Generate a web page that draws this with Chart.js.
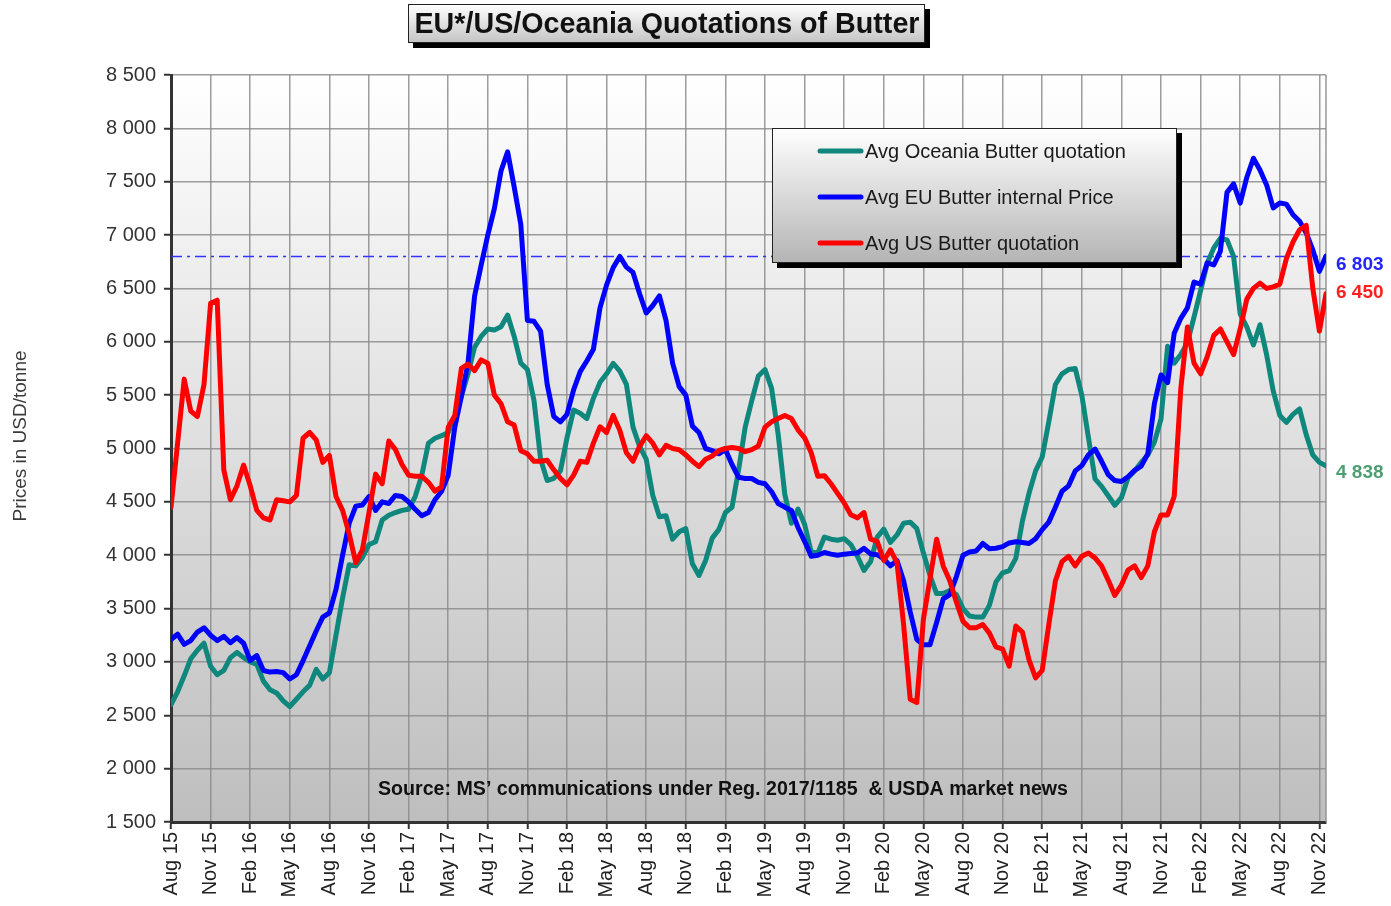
<!DOCTYPE html>
<html>
<head>
<meta charset="utf-8">
<title>EU*/US/Oceania Quotations of Butter</title>
<script src="https://cdn.jsdelivr.net/npm/chart.js@4.4.1/dist/chart.umd.min.js"></script>
<style>
	html, body { margin: 0; padding: 0; background: #fff; }
	canvas { display: block; }
</style>
</head>
<body>
<canvas id="butterChart" width="1391" height="906"></canvas>
<script>
// one tick label every 3 months, Aug 2015 .. Nov 2022
const quarterLabels = [
	"Aug 15", "Nov 15", "Feb 16", "May 16", "Aug 16", "Nov 16", "Feb 17", "May 17",
	"Aug 17", "Nov 17", "Feb 18", "May 18", "Aug 18", "Nov 18", "Feb 19", "May 19",
	"Aug 19", "Nov 19", "Feb 20", "May 20", "Aug 20", "Nov 20", "Feb 21", "May 21",
	"Aug 21", "Nov 21", "Feb 22", "May 22", "Aug 22", "Nov 22"
];

// prices in USD/tonne, one value every half month from Aug 2015
const monthStep = 0.5;

const oceania = [
	2600, 2720, 2870, 3030, 3110, 3175, 2960, 2880, 2920, 3040, 3090, 3040,
	3000, 2977, 2820, 2740, 2710, 2636, 2582, 2650, 2720, 2780, 2930, 2840,
	2900, 3250, 3600, 3910, 3900, 3980, 4100, 4126, 4330, 4375, 4400, 4420,
	4430, 4550, 4750, 5050, 5096, 5120, 5150, 5300, 5490, 5700, 5950, 6050,
	6120, 6110, 6140, 6250, 6050, 5800, 5740, 5450, 4900, 4700, 4720, 4790,
	5100, 5360, 5330, 5280, 5470, 5620, 5700, 5797, 5725, 5600, 5200, 5020,
	4900, 4560, 4360, 4370, 4150, 4220, 4250, 3920, 3810, 3950, 4160, 4240,
	4400, 4450, 4800, 5200, 5450, 5680, 5740, 5563, 5130, 4570, 4300, 4432,
	4290, 4030, 4020, 4170, 4150, 4140, 4155, 4100, 3990, 3857, 3940, 4170,
	4245, 4120, 4190, 4300, 4310, 4250, 4020, 3810, 3641, 3641, 3670, 3630,
	3500, 3430, 3420, 3420, 3530, 3750, 3835, 3855, 3970, 4320, 4580, 4790,
	4920, 5250, 5600, 5700, 5740, 5750, 5500, 5105, 4715, 4645, 4557, 4468,
	4539, 4725, 4790, 4870, 4940, 5060, 5276, 5958, 5800, 5880, 5990, 6230,
	6480, 6735, 6880, 6970, 6955, 6800, 6260, 6140, 5970, 6160, 5880, 5540,
	5310, 5245, 5320, 5370, 5130, 4940, 4870, 4838
];

const euPrice = [
	3210, 3260, 3165, 3200, 3280, 3320, 3250, 3200, 3240, 3180, 3228, 3175,
	3013, 3060, 2920, 2905, 2910, 2900, 2840, 2880, 3010, 3150, 3290, 3420,
	3460, 3680, 4000, 4300, 4460, 4470, 4550, 4420, 4500, 4485, 4560, 4550,
	4500, 4430, 4370, 4400, 4520, 4600, 4750, 5200, 5490, 5800, 6430, 6720,
	7000, 7250, 7600, 7780, 7450, 7100, 6200, 6192, 6100, 5600, 5300, 5250,
	5320, 5550, 5720, 5820, 5930, 6318, 6533, 6695, 6800, 6700, 6650, 6450,
	6270, 6340, 6430, 6200, 5800, 5580, 5500, 5210, 5150, 5000, 4980, 4950,
	4990, 4850, 4730, 4719, 4719, 4683, 4670, 4595, 4485, 4450, 4420, 4260,
	4130, 3990, 4000, 4025, 4010, 4000, 4010, 4015, 4020, 4065, 4012, 4005,
	3965, 3900, 3950, 3760, 3470, 3210, 3160, 3160, 3370, 3590, 3630, 3800,
	4000, 4030, 4040, 4110, 4060, 4065, 4080, 4115, 4126, 4120, 4110, 4155,
	4240, 4310, 4450, 4600, 4650, 4790, 4840, 4940, 4995, 4880, 4755, 4700,
	4690, 4735, 4795, 4835, 4950, 5420, 5689, 5617, 6080, 6220, 6318, 6560,
	6540, 6740, 6720, 6850, 7400, 7480, 7300, 7540, 7720, 7610, 7470, 7255,
	7300, 7290, 7190, 7130, 7020, 6860, 6660, 6803
];

const usQuote = [
	4450, 5050, 5650, 5350, 5300, 5600, 6360, 6390, 4800, 4520, 4650, 4845,
	4650, 4420, 4350, 4330, 4520, 4510, 4500, 4560, 5096, 5150, 5080, 4870,
	4935, 4550, 4420, 4200, 3930, 4050, 4400, 4760, 4670, 5070, 4990, 4850,
	4750, 4740, 4740, 4683, 4600, 4640, 5200, 5310, 5750, 5790, 5730, 5830,
	5800, 5500, 5420, 5250, 5220, 4980, 4950, 4880, 4880, 4890, 4800, 4720,
	4660, 4750, 4880, 4870, 5050, 5204, 5150, 5310, 5170, 4960, 4880, 5020,
	5120, 5050, 4940, 5030, 5000, 4988, 4940, 4880, 4830, 4900, 4930, 4980,
	5000, 5010, 5000, 4970, 4990, 5024, 5200, 5250, 5280, 5310, 5280, 5175,
	5100, 4960, 4740, 4745, 4670, 4580, 4490, 4380, 4350, 4400, 4150, 4130,
	3950, 4050, 3930, 3350, 2650, 2620, 3400, 3780, 4150, 3900, 3760, 3560,
	3380, 3320, 3320, 3350, 3270, 3140, 3120, 2960, 3336, 3280, 3020, 2850,
	2920, 3350, 3760, 3940, 3990, 3900, 3990, 4020, 3975, 3900, 3767, 3623,
	3720, 3860, 3900, 3790, 3900, 4220, 4378, 4378, 4550, 5560, 6138, 5800,
	5700, 5860, 6060, 6120, 6000, 5880, 6120, 6400, 6500, 6550, 6500, 6515,
	6540, 6780, 6935, 7050, 7090, 6500, 6100, 6450
];

// last quotations written at the right edge
const lastEu = 6803;
const lastUs = 6450;
const lastOceania = 4838;

const chartTitle = "EU*/US/Oceania Quotations of Butter";
const yTitle = "Prices in USD/tonne";
const sourceNote = "Source: MS\u2019 communications under Reg. 2017/1185  & USDA market news";

const FONT = "'Liberation Sans', Arial, sans-serif";

function spaceThousands(v) {
	return String(v).replace(/\B(?=(\d{3})+(?!\d))/g, ' ');
}

function toPoints(values) {
	return values.map((v, i) => ({ x: i * monthStep, y: v }));
}

// draws centred text squeezed sideways to the wanted width (narrow look)
function drawSqueezed(ctx, text, cx, cy, font, width) {
	ctx.save();
	ctx.font = font;
	const sx = width / ctx.measureText(text).width;
	ctx.translate(cx, cy);
	ctx.scale(sx, 1);
	ctx.textAlign = 'center';
	ctx.textBaseline = 'middle';
	ctx.fillText(text, 0, 0);
	ctx.restore();
}

function drawShadowBox(ctx, x, y, w, h, bottomColor) {
	ctx.fillStyle = '#000';
	ctx.fillRect(x + 5, y + 5, w, h);
	const g = ctx.createLinearGradient(0, y, 0, y + h);
	g.addColorStop(0, '#ffffff');
	g.addColorStop(1, bottomColor);
	ctx.fillStyle = g;
	ctx.fillRect(x, y, w, h);
	ctx.strokeStyle = '#222';
	ctx.lineWidth = 1;
	ctx.strokeRect(x + 0.5, y + 0.5, w - 1, h - 1);
}

const decorPlugin = {
	id: 'decor',
	beforeDraw(chart) {
		const { ctx, chartArea: a } = chart;
		const g = ctx.createLinearGradient(0, a.top, 0, a.bottom);
		g.addColorStop(0, '#ffffff');
		g.addColorStop(1, '#bebebe');
		ctx.save();
		ctx.fillStyle = g;
		ctx.fillRect(a.left, a.top, a.right - a.left, a.bottom - a.top);
		ctx.restore();
	},
	beforeDatasetsDraw(chart) {
		const { ctx, chartArea: a } = chart;
		const yScale = chart.scales.y;
		ctx.save();
		// right edge of the plot
		ctx.strokeStyle = 'rgba(140,140,140,0.9)';
		ctx.lineWidth = 1.5;
		ctx.beginPath();
		ctx.moveTo(a.right, a.top);
		ctx.lineTo(a.right, a.bottom);
		ctx.stroke();
		// dash-dot reference at the last EU price
		const yRef = Math.round(yScale.getPixelForValue(lastEu)) + 0.5;
		ctx.strokeStyle = '#3333ff';
		ctx.lineWidth = 1.5;
		ctx.setLineDash([11, 5, 3, 5]);
		ctx.beginPath();
		ctx.moveTo(a.left, yRef);
		ctx.lineTo(a.right, yRef);
		ctx.stroke();
		ctx.restore();
	},
	afterDraw(chart) {
		const { ctx, chartArea: a } = chart;
		const yScale = chart.scales.y;
		ctx.save();

		// title box
		drawShadowBox(ctx, 408, 4, 517, 39, '#c4c4c4');
		ctx.fillStyle = '#111';
		drawSqueezed(ctx, chartTitle, 667, 25, 'bold 29px ' + FONT, 505);

		// legend box
		drawShadowBox(ctx, 772, 128, 405, 135, '#b4b4b4');
		ctx.textAlign = 'left';
		ctx.textBaseline = 'middle';
		ctx.font = '20px ' + FONT;
		chart.data.datasets.forEach((ds, i) => {
			const y = 151 + i * 46;
			ctx.strokeStyle = ds.borderColor;
			ctx.lineWidth = 5;
			ctx.lineCap = 'round';
			ctx.beginPath();
			ctx.moveTo(820, y);
			ctx.lineTo(861, y);
			ctx.stroke();
			ctx.fillStyle = '#1a1a1a';
			ctx.fillText(ds.label, 865, y + 1);
		});

		// y axis title
		ctx.save();
		ctx.translate(21, 436);
		ctx.rotate(-Math.PI / 2);
		ctx.textAlign = 'center';
		ctx.fillStyle = '#3a3a3a';
		ctx.font = '19px ' + FONT;
		ctx.fillText(yTitle, 0, 0);
		ctx.restore();

		// last values at the right
		ctx.textAlign = 'left';
		ctx.font = 'bold 19px ' + FONT;
		ctx.fillStyle = '#2424ff';
		ctx.fillText(spaceThousands(lastEu), a.right + 10, yScale.getPixelForValue(lastEu) + 9);
		ctx.fillStyle = '#ff2020';
		ctx.fillText(spaceThousands(lastUs), a.right + 10, yScale.getPixelForValue(lastUs) - 1);
		ctx.fillStyle = '#4d9f72';
		ctx.fillText(spaceThousands(lastOceania), a.right + 10, yScale.getPixelForValue(lastOceania) + 7);

		// source note
		ctx.fillStyle = '#111';
		drawSqueezed(ctx, sourceNote, 723, 789, 'bold 20px ' + FONT, 690);

		ctx.restore();
	}
};

Chart.defaults.font.family = FONT;

const butterChart = new Chart(document.getElementById('butterChart'), {
	type: 'line',
	data: {
		datasets: [{
			label: 'Avg Oceania Butter quotation',
			data: toPoints(oceania),
			borderColor: '#0f877d',
			order: 3
		}, {
			label: 'Avg EU Butter internal Price',
			data: toPoints(euPrice),
			borderColor: '#0000ff',
			order: 2
		}, {
			label: 'Avg US Butter quotation',
			data: toPoints(usQuote),
			borderColor: '#ff0000',
			order: 1
		}]
	},
	options: {
		responsive: false,
		animation: false,
		layout: {
			padding: { top: 75, right: 65, bottom: 0, left: 0 }
		},
		elements: {
			line: { borderWidth: 5, tension: 0, borderJoinStyle: 'round', borderCapStyle: 'round' },
			point: { radius: 0, hoverRadius: 0 }
		},
		plugins: {
			legend: { display: false },
			title: { display: false },
			tooltip: { enabled: false }
		},
		scales: {
			x: {
				type: 'linear',
				min: 0,
				max: quarterLabels.length * 3 - 2.5,
				afterFit(scale) { scale.height = 84; },
				grid: { color: 'rgba(140,140,140,0.85)', lineWidth: 1.5, tickLength: 7, tickColor: '#333', tickWidth: 2 },
				border: { color: '#333', width: 3 },
				ticks: {
					stepSize: 3,
					includeBounds: false,
					autoSkip: false,
					minRotation: 90,
					maxRotation: 90,
					padding: 3,
					color: '#222',
					font: { size: 20 },
					callback: function(value) {
						return quarterLabels[Math.round(value / 3)];
					}
				}
			},
			y: {
				min: 1500,
				max: 8500,
				afterFit(scale) { scale.width = 171; },
				grid: { color: 'rgba(140,140,140,0.85)', lineWidth: 1.5, tickLength: 7, tickColor: '#333', tickWidth: 2 },
				border: { color: '#333', width: 3 },
				ticks: {
					stepSize: 500,
					padding: 8,
					color: '#333',
					font: { size: 20 },
					callback: function(value) {
						return spaceThousands(value);
					}
				}
			}
		}
	},
	plugins: [decorPlugin]
});
</script>
</body>
</html>
